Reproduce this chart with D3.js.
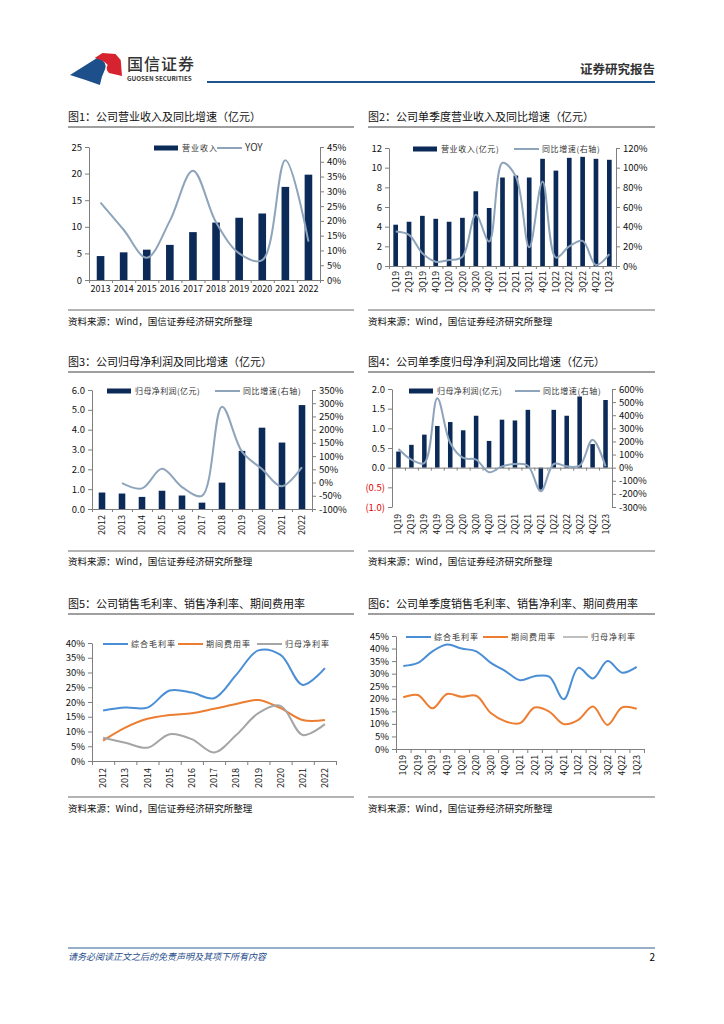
<!DOCTYPE html>
<html>
<head>
<meta charset="utf-8">
<script src="https://cdn.jsdelivr.net/npm/d3@7"></script>
<style>
  body { margin: 0; background: #fff; }
  text { font-family: "Noto Sans CJK SC", "Noto Sans", sans-serif; }
</style>
</head>
<body>
<svg id="page" width="724" height="1024"></svg>
<script>
// ---- data ----
const years13 = ["2013", "2014", "2015", "2016", "2017", "2018", "2019", "2020", "2021", "2022"];
const revenue = [4.5, 5.2, 5.7, 6.6, 9.0, 10.8, 11.7, 12.5, 17.5, 19.8];
const revenueYoy = [26.2, 17, 7.5, 20, 37, 19.5, 9, 6.7, 40.5, 13];

const quarters = ["1Q19", "2Q19", "3Q19", "4Q19", "1Q20", "2Q20", "3Q20", "4Q20",
  "1Q21", "2Q21", "3Q21", "4Q21", "1Q22", "2Q22", "3Q22", "4Q22", "1Q23"];
const qRevenue = [4.2, 4.5, 5.1, 4.8, 4.5, 4.9, 7.6, 5.9, 9.0, 9.2, 9.0, 10.9, 9.7, 11.0, 11.1, 10.9, 10.8];
const qRevenueYoy = [35, 31.6, 13, 4.4, 6, 9.5, 52, 25, 105, 91, 19, 86, 8.5, 20, 25.5, 1, 12];

const years12 = ["2012", "2013", "2014", "2015", "2016", "2017", "2018", "2019", "2020", "2021", "2022"];
const netProfit = [0.83, 0.78, 0.61, 0.92, 0.68, 0.32, 1.33, 2.93, 4.1, 3.35, 5.24];
const netProfitYoy = [null, -2, -22, 52, -17, -50, 287, 117, 51, -14, 58];

const qNetProfit = [0.41, 0.58, 0.84, 1.06, 1.16, 0.95, 1.32, 0.68, 1.22, 1.2, 1.47, -0.56, 1.47, 1.32, 1.81, 0.6, 1.72];
const qNetProfitYoy = [142, 61, 35, 530, 188, 74, 61, -35, 10, 28, 15, -180, 28, 10, 15, 213, 10];

const grossMargin = [17.1, 18.1, 18.1, 23.9, 23.2, 21.3, 29.2, 37.5, 36, 25.8, 31.5];
const expenseRatio = [6.9, 11.3, 14.3, 15.6, 16.2, 17.7, 19.3, 20.7, 17.9, 13.9, 13.9];
const netMargin = [7.9, 6.2, 4.5, 9.1, 7.4, 2.9, 8.8, 16.2, 18.7, 8.8, 12.5];

const qGrossMargin = [33.1, 34.3, 38.9, 41.6, 40, 38.9, 34.3, 31, 27.4, 29, 28.8, 19.8, 32.3, 28.1, 35, 30.4, 32.7];
const qExpenseRatio = [20.6, 21.5, 16.2, 21.9, 20.8, 21.2, 14.3, 11, 10.3, 16.5, 14.9, 9.9, 11.6, 16.9, 9.6, 16.6, 16];

const titles = [
  "图1：公司营业收入及同比增速（亿元）",
  "图2：公司单季度营业收入及同比增速（亿元）",
  "图3：公司归母净利润及同比增速（亿元）",
  "图4：公司单季度归母净利润及同比增速（亿元）",
  "图5：公司销售毛利率、销售净利率、期间费用率",
  "图6：公司单季度销售毛利率、销售净利率、期间费用率"
];
const sourceText = "资料来源：Wind，国信证券经济研究所整理";

const NAVY = "#0c2a58";
const GREYBLUE = "#8ea4bb";
const BLUE = "#4a8fd6";
const ORANGE = "#ed7d31";
const GREY = "#a5a5a5";
const NUMFONT = "'Liberation Sans', Arial, sans-serif";

const svg = d3.select("#page");

// ---- page frame ----
// logo
svg.append("path").attr("d", "M70,75 L98.6,57 Q107.7,63 105.1,69 Q101.2,77 99.9,85 L85.6,80 Z").attr("fill", "#1d4f8a");
svg.append("path").attr("d", "M94.7,58 L102.5,53 L115.5,54 L120.7,60 L122,76 L109,73 Q105.1,69 107.7,65 Q103.8,60 94.7,58 Z").attr("fill", "#d7232f");
svg.append("text").attr("x", 127).attr("y", 70).attr("font-size", 16).attr("font-weight", 500)
  .attr("fill", "#333").attr("letter-spacing", 1).text("国信证券");
svg.append("text").attr("x", 127).attr("y", 81).attr("font-size", 6.3).attr("font-weight", 700)
  .attr("font-family", NUMFONT).attr("fill", "#333").text("GUOSEN SECURITIES");
svg.append("line").attr("x1", 207).attr("x2", 655).attr("y1", 82).attr("y2", 82)
  .attr("stroke", "#1f5591").attr("stroke-width", 2);
svg.append("text").attr("x", 655).attr("y", 74).attr("text-anchor", "end").attr("font-size", 12.5)
  .attr("font-weight", 700).attr("fill", "#333").text("证券研究报告");

// titles and sources
const colX = [68, 368], colW = [286, 287];
const titleY = [117, 362, 604];
const sourceY = [321, 561, 808];
const sourceLineY = [310, 551, 797];
titles.forEach((t, i) => {
  const c = i % 2, r = Math.floor(i / 2);
  svg.append("text").attr("x", colX[c]).attr("y", titleY[r] + 4).attr("font-size", 11).attr("fill", "#111").text(t);
  svg.append("line").attr("x1", colX[c]).attr("x2", colX[c] + colW[c])
    .attr("y1", titleY[r] + 10).attr("y2", titleY[r] + 10).attr("stroke", "#7f7f7f").attr("stroke-width", 1.5);
  svg.append("line").attr("x1", colX[c]).attr("x2", colX[c] + colW[c])
    .attr("y1", sourceLineY[r]).attr("y2", sourceLineY[r]).attr("stroke", "#9a9a9a").attr("stroke-width", 1.5);
  svg.append("text").attr("x", colX[c]).attr("y", sourceY[r] + 4).attr("font-size", 9.5).attr("fill", "#111").text(sourceText);
});

// footer
svg.append("line").attr("x1", 68).attr("x2", 655).attr("y1", 948).attr("y2", 948).attr("stroke", "#2e5f93").attr("stroke-width", 1);
svg.append("text").attr("x", 68).attr("y", 960).attr("font-size", 9).attr("font-style", "italic")
  .attr("fill", "#1f4e8c").text("请务必阅读正文之后的免责声明及其项下所有内容");
svg.append("text").attr("x", 655).attr("y", 961).attr("text-anchor", "end").attr("font-size", 10)
  .attr("font-family", NUMFONT).text("2");

// ---- helpers ----
function styleAxis(g, size) {
  g.attr("font-family", NUMFONT).attr("font-size", size || 9.5);
  g.selectAll("path, line").attr("stroke", "#7f7f7f");
  g.selectAll("text").attr("fill", "#111");
}

function rotateLabels(g) {
  g.selectAll("text").attr("transform", "rotate(-90)").attr("text-anchor", "end")
    .attr("x", -3).attr("y", 0).attr("dy", "0.35em");
}

function legend(items, y) {
  items.forEach(it => {
    if (it.type === "rect") {
      svg.append("rect").attr("x", it.x).attr("y", y - 2.5).attr("width", 24).attr("height", 5).attr("fill", it.color);
    } else {
      svg.append("line").attr("x1", it.x).attr("x2", it.x + 25).attr("y1", y).attr("y2", y)
        .attr("stroke", it.color).attr("stroke-width", 2);
    }
    svg.append("text").attr("x", it.x + 28).attr("y", y + 3).attr("font-size", it.size || 8)
      .attr("letter-spacing", it.ls == null ? 1 : it.ls).attr("fill", "#333")
      .attr("font-family", it.num ? NUMFONT : null).text(it.label);
  });
}

function combo(o) {
  const n = o.cats.length;
  const x = d3.scaleBand().domain(o.cats).range([o.left, o.right]).paddingInner(o.pad).paddingOuter(o.pad / 2);
  const slot = d3.scaleLinear().domain([0, n]).range([o.left, o.right]);
  const yL = d3.scaleLinear().domain(o.lDom).range([o.bottom, o.top]);
  const yR = d3.scaleLinear().domain(o.rDom).range([o.bottom, o.top]);
  const g = svg.append("g");

  g.selectAll("rect").data(o.bars).join("rect")
    .attr("x", (d, i) => x(o.cats[i])).attr("width", x.bandwidth())
    .attr("y", d => yL(Math.max(d, 0))).attr("height", d => Math.abs(yL(d) - yL(0)))
    .attr("fill", NAVY);

  const la = g.append("g").attr("transform", `translate(${o.left},0)`)
    .call(d3.axisLeft(yL).tickValues(o.lTicks).tickFormat(o.lFmt).tickSize(4).tickSizeOuter(0))
    .call(styleAxis);
  la.selectAll(".tick text").filter(d => d < 0).attr("fill", "#e00000");

  g.append("g").attr("transform", `translate(${o.right},0)`)
    .call(d3.axisRight(yR).tickValues(o.rTicks).tickFormat(d => d + "%").tickSize(4).tickSizeOuter(0))
    .call(styleAxis);

  g.append("g").attr("transform", `translate(0,${yL(0)})`)
    .call(d3.axisBottom(slot).tickValues(d3.range(n + 1)).tickFormat("").tickSize(3).tickSizeOuter(0))
    .call(styleAxis);

  const xl = g.append("g").attr("transform", `translate(0,${o.labelY})`)
    .call(d3.axisBottom(x).tickSize(0).tickPadding(0))
    .call(styleAxis, o.xFont);
  xl.select(".domain").remove();
  if (o.rotate) rotateLabels(xl);

  const line = d3.line().defined(d => d != null)
    .x((d, i) => x(o.cats[i]) + x.bandwidth() / 2).y(d => yR(d))
    .curve(d3.curveCatmullRom.alpha(0.5));
  g.append("path").attr("d", line(o.line)).attr("fill", "none")
    .attr("stroke", GREYBLUE).attr("stroke-width", 2);
}

function lineChart(o) {
  const n = o.cats.length;
  const x = d3.scaleBand().domain(o.cats).range([o.left, o.right]);
  const slot = d3.scaleLinear().domain([0, n]).range([o.left, o.right]);
  const y = d3.scaleLinear().domain(o.yDom).range([o.bottom, o.top]);
  const g = svg.append("g");

  g.append("g").attr("transform", `translate(${o.left},0)`)
    .call(d3.axisLeft(y).tickValues(o.yTicks).tickFormat(d => d + "%").tickSize(4).tickSizeOuter(0))
    .call(styleAxis);
  g.append("g").attr("transform", `translate(0,${o.bottom})`)
    .call(d3.axisBottom(slot).tickValues(d3.range(n + 1)).tickFormat("").tickSize(4).tickSizeOuter(0))
    .call(styleAxis);
  const xl = g.append("g").attr("transform", `translate(0,${o.labelY})`)
    .call(d3.axisBottom(x).tickSize(0).tickPadding(0))
    .call(styleAxis, o.xFont);
  xl.select(".domain").remove();
  rotateLabels(xl);

  const line = d3.line().x((d, i) => x(o.cats[i]) + x.bandwidth() / 2).y(d => y(d))
    .curve(d3.curveCatmullRom.alpha(0.5));
  o.series.forEach(s => {
    g.append("path").attr("d", line(s.values)).attr("fill", "none")
      .attr("stroke", s.color).attr("stroke-width", 2);
  });
}

// ---- chart 1 ----
combo({
  cats: years13, bars: revenue, line: revenueYoy,
  left: 89, right: 320, top: 147, bottom: 280, pad: 0.67,
  lDom: [0, 25], lTicks: d3.range(0, 26, 5), lFmt: d3.format("d"),
  rDom: [0, 45], rTicks: d3.range(0, 46, 5),
  labelY: 286, xFont: 9, rotate: false
});
legend([
  { type: "rect", x: 154, color: NAVY, label: "营业收入" },
  { type: "line", x: 217, color: GREYBLUE, label: "YOY", num: true, size: 10, ls: 0 }
], 148);

// ---- chart 2 ----
combo({
  cats: quarters, bars: qRevenue, line: qRevenueYoy,
  left: 389, right: 616, top: 148, bottom: 266, pad: 0.65,
  lDom: [0, 12], lTicks: d3.range(0, 13, 2), lFmt: d3.format("d"),
  rDom: [0, 120], rTicks: d3.range(0, 121, 20),
  labelY: 268, xFont: 9, rotate: true
});
legend([
  { type: "rect", x: 413, color: NAVY, label: "营业收入(亿元)", ls: 0.6 },
  { type: "line", x: 514, color: GREYBLUE, label: "同比增速(右轴)", ls: 0.6 }
], 149);

// ---- chart 3 ----
combo({
  cats: years12, bars: netProfit, line: netProfitYoy,
  left: 92, right: 312, top: 390, bottom: 509, pad: 0.67,
  lDom: [0, 6], lTicks: d3.range(0, 6.1, 1), lFmt: d3.format(".1f"),
  rDom: [-100, 350], rTicks: d3.range(-100, 351, 50),
  labelY: 512, xFont: 9, rotate: true
});
legend([
  { type: "rect", x: 107, color: NAVY, label: "归母净利润(亿元)", ls: 0.4 },
  { type: "line", x: 215, color: GREYBLUE, label: "同比增速(右轴)", ls: 0.6 }
], 391);

// ---- chart 4 ----
combo({
  cats: quarters, bars: qNetProfit, line: qNetProfitYoy,
  left: 392, right: 612, top: 389, bottom: 507, pad: 0.65,
  lDom: [-1, 2], lTicks: d3.range(-1, 2.01, 0.5),
  lFmt: d => d < 0 ? "(" + d3.format(".1f")(-d) + ")" : d3.format(".1f")(d),
  rDom: [-300, 600], rTicks: d3.range(-300, 601, 100),
  labelY: 511, xFont: 8.5, rotate: true
});
legend([
  { type: "rect", x: 409, color: NAVY, label: "归母净利润(亿元)", ls: 0.4 },
  { type: "line", x: 515, color: GREYBLUE, label: "同比增速(右轴)", ls: 0.6 }
], 391);

// ---- chart 5 ----
lineChart({
  cats: years12, yDom: [0, 40], yTicks: d3.range(0, 41, 5),
  left: 92, right: 336, top: 643, bottom: 761, labelY: 765, xFont: 9,
  series: [
    { values: grossMargin, color: BLUE },
    { values: expenseRatio, color: ORANGE },
    { values: netMargin, color: GREY }
  ]
});
legend([
  { type: "line", x: 103, color: BLUE, label: "综合毛利率" },
  { type: "line", x: 178, color: ORANGE, label: "期间费用率" },
  { type: "line", x: 257, color: GREY, label: "归母净利率" }
], 644);

// ---- chart 6 ----
lineChart({
  cats: quarters, yDom: [0, 45], yTicks: d3.range(0, 46, 5),
  left: 396, right: 644, top: 636, bottom: 749, labelY: 752, xFont: 8.5,
  series: [
    { values: qGrossMargin, color: BLUE },
    { values: qExpenseRatio, color: ORANGE }
  ]
});
legend([
  { type: "line", x: 406, color: BLUE, label: "综合毛利率" },
  { type: "line", x: 483, color: ORANGE, label: "期间费用率" },
  { type: "line", x: 563, color: "#bfbfbf", label: "归母净利率" }
], 637);
</script>
</body>
</html>
